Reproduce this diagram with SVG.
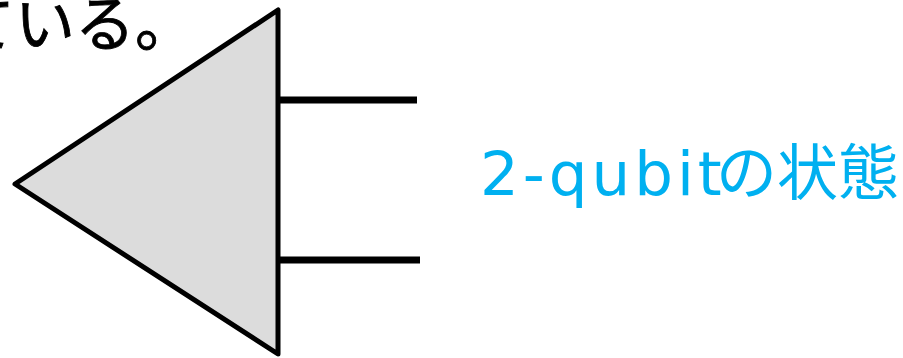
<svg xmlns="http://www.w3.org/2000/svg" width="903" height="358" viewBox="0 0 903 358">
<style>
.t{font-family:"Noto Sans CJK JP","DejaVu Sans",sans-serif;fill:#000}
.lbl{font-family:"DejaVu Sans","Noto Sans CJK JP",sans-serif;fill:#00B0F0;font-size:61px}
.wire{stroke:#000;stroke-width:7;fill:none}
</style>
<rect width="903" height="358" fill="#fff"/>
<text class="t" x="195" y="46" font-size="60" text-anchor="end" stroke="#000" stroke-width="0.8">ている。</text>
<g id="triangle">
<polygon points="15,184 278,10 278,354" fill="#DCDCDC" stroke="#000" stroke-width="5" stroke-linejoin="round"/>
</g>
<g id="connectors">
<line class="wire" x1="278" y1="100" x2="417" y2="100"/>
<line class="wire" x1="278" y1="260" x2="420" y2="260"/>
</g>
<g id="label">
<text class="lbl" x="480" y="195"><tspan letter-spacing="4">2-qubit</tspan><tspan x="716">の状態</tspan></text>
</g>
</svg>
